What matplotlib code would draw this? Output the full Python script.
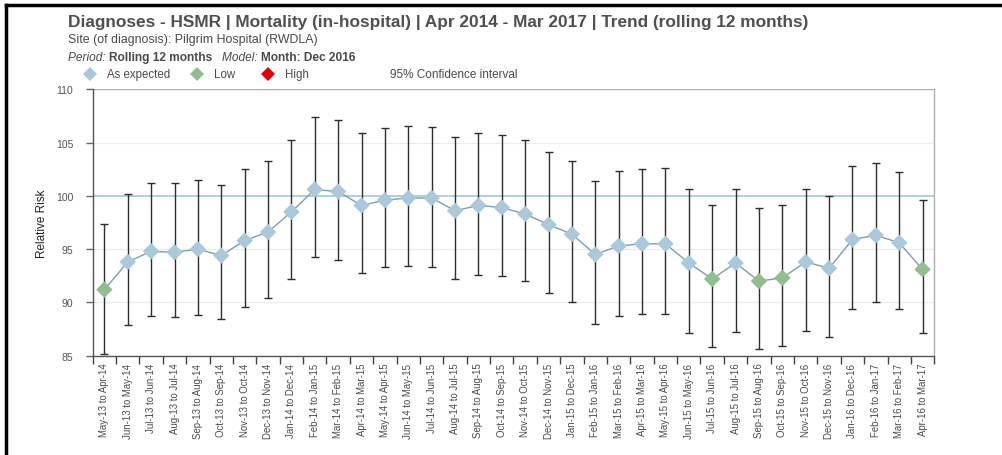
import matplotlib
matplotlib.use("Agg")
import matplotlib.pyplot as plt
from matplotlib.lines import Line2D

plt.rcParams['font.family'] = ['Liberation Sans', 'DejaVu Sans']

periods = [
    "May-13 to Apr-14", "Jun-13 to May-14", "Jul-13 to Jun-14", "Aug-13 to Jul-14",
    "Sep-13 to Aug-14", "Oct-13 to Sep-14", "Nov-13 to Oct-14", "Dec-13 to Nov-14",
    "Jan-14 to Dec-14", "Feb-14 to Jan-15", "Mar-14 to Feb-15", "Apr-14 to Mar-15",
    "May-14 to Apr-15", "Jun-14 to May-15", "Jul-14 to Jun-15", "Aug-14 to Jul-15",
    "Sep-14 to Aug-15", "Oct-14 to Sep-15", "Nov-14 to Oct-15", "Dec-14 to Nov-15",
    "Jan-15 to Dec-15", "Feb-15 to Jan-16", "Mar-15 to Feb-16", "Apr-15 to Mar-16",
    "May-15 to Apr-16", "Jun-15 to May-16", "Jul-15 to Jun-16", "Aug-15 to Jul-16",
    "Sep-15 to Aug-16", "Oct-15 to Sep-16", "Nov-15 to Oct-16", "Dec-15 to Nov-16",
    "Jan-16 to Dec-16", "Feb-16 to Jan-17", "Mar-16 to Feb-17", "Apr-16 to Mar-17",
]
relative_risk = [
    91.2, 93.8, 94.8, 94.7, 95.0, 94.4, 95.8, 96.6, 98.5, 100.6, 100.4, 99.1,
    99.6, 99.8, 99.8, 98.6, 99.1, 98.9, 98.3, 97.3, 96.4, 94.5, 95.3, 95.5,
    95.5, 93.7, 92.2, 93.7, 92.0, 92.3, 93.8, 93.2, 95.9, 96.3, 95.6, 93.1,
]
ci_upper = [
    97.4, 100.2, 101.2, 101.2, 101.5, 101.0, 102.5, 103.3, 105.2, 107.4, 107.1, 105.9,
    106.4, 106.6, 106.5, 105.5, 105.9, 105.7, 105.2, 104.1, 103.3, 101.4, 102.3, 102.5,
    102.6, 100.6, 99.1, 100.6, 98.9, 99.1, 100.6, 100.0, 102.8, 103.1, 102.2, 99.6,
]
ci_lower = [
    85.2, 87.9, 88.7, 88.6, 88.8, 88.4, 89.6, 90.4, 92.2, 94.3, 94.0, 92.8,
    93.3, 93.4, 93.3, 92.2, 92.6, 92.5, 92.0, 90.9, 90.0, 88.0, 88.7, 88.9,
    88.9, 87.1, 85.8, 87.2, 85.6, 85.9, 87.3, 86.8, 89.4, 90.0, 89.4, 87.1,
]
status = [
    "Low", "As expected", "As expected", "As expected", "As expected", "As expected",
    "As expected", "As expected", "As expected", "As expected", "As expected", "As expected",
    "As expected", "As expected", "As expected", "As expected", "As expected", "As expected",
    "As expected", "As expected", "As expected", "As expected", "As expected", "As expected",
    "As expected", "As expected", "Low", "As expected", "Low", "Low",
    "As expected", "As expected", "As expected", "As expected", "As expected", "Low",
]
yticks = [85, 90, 95, 100, 105, 110]

colours = {"As expected": "#a9c9dd", "Low": "#8fbf8c", "High": "#e00000"}
text_grey = "#4a4a4a"

fig = plt.figure(figsize=(10.02, 4.56), dpi=100)
ax = fig.add_axes([0.0925, 0.2178, 0.8399, 0.5842])

x = list(range(len(periods)))

# faint horizontal guides
for y in yticks[1:-1]:
    if y != 100:
        ax.axhline(y, color="#ececec", lw=0.9, zorder=0)
ax.axhline(100, color="#9ccbd3", lw=1.2, zorder=1)
ax.axhline(110, color="#a8b0b0", lw=1.0, zorder=1)

# confidence intervals
ax.errorbar(x, relative_risk,
            yerr=[[r - lo for r, lo in zip(relative_risk, ci_lower)],
                  [hi - r for r, hi in zip(relative_risk, ci_upper)]],
            fmt="none", ecolor="#2e2e2e", elinewidth=1.0, capsize=3, capthick=1.0, zorder=2)

# trend line and diamond markers
ax.plot(x, relative_risk, color="#7d9fae", lw=1.0, zorder=3)
for xi, yi, st in zip(x, relative_risk, status):
    ax.scatter(xi, yi, marker="D", s=70, color=colours[st], edgecolors="none", zorder=4)

ax.set_xlim(-0.5, len(periods) - 0.5)
ax.set_ylim(85, 110)
ax.set_yticks(yticks)
ax.set_yticklabels([str(t) for t in yticks], fontsize=7.5, color="#555555")
ax.set_xticks(x)
ax.set_xticklabels(periods, rotation=90, fontsize=6.9, color=text_grey)
ax.set_xticks([i - 0.5 for i in range(len(periods) + 1)], minor=True)
ax.tick_params(axis="x", which="major", length=0, pad=5)
ax.tick_params(axis="x", which="minor", length=6, width=1.0, color="#444444")
ax.tick_params(axis="y", length=5, width=1.0, color="#666666", pad=9)

ax.set_ylabel("Relative Risk", fontsize=8.5, color="#222222", labelpad=5.5)

ax.spines["top"].set_visible(False)
ax.spines["right"].set_color("#b0b0b0")
ax.spines["left"].set_color("#555555")
ax.spines["bottom"].set_color("#555555")
for sp in ax.spines.values():
    sp.set_linewidth(1.0)

# header text
fig.text(0.068, 0.950, "Diagnoses - HSMR | Mortality (in-hospital) | Apr 2014 - Mar 2017 | Trend (rolling 12 months)",
         fontsize=12.4, fontweight="bold", color="#505050", va="center")
fig.text(0.068, 0.912, "Site (of diagnosis): Pilgrim Hospital (RWDLA)",
         fontsize=8.9, color=text_grey, va="center")
t1 = fig.text(0.068, 0.873, "Period: ", fontsize=8.6, style="italic", color=text_grey, va="center")
fig.canvas.draw()
renderer = fig.canvas.get_renderer()


def place_after(prev, s, **kw):
    bb = prev.get_window_extent(renderer)
    xf = bb.x1 / fig.bbox.width
    return fig.text(xf, 0.873, s, va="center", color=text_grey, fontsize=8.6, **kw)


t2 = place_after(t1, "Rolling 12 months   ", fontweight="bold")
t3 = place_after(t2, "Model: ", style="italic")
t4 = place_after(t3, "Month: Dec 2016", fontweight="bold")

# legend row
legend_y = 0.836
for xp, label in [(0.090, "As expected"), (0.197, "Low"), (0.267, "High")]:
    fig.add_artist(Line2D([xp], [legend_y], marker="D", markersize=7.5, color=colours[label],
                          markeredgewidth=0, linestyle="none"))
    fig.text(xp + 0.017, legend_y, label, fontsize=8.3, color=text_grey, va="center")
fig.text(0.389, legend_y, "95% Confidence interval", fontsize=8.5, color=text_grey, va="center")

# frame edges
fig.add_artist(Line2D([0.006, 1.0], [0.987, 0.987], color="black", lw=2.5))
fig.add_artist(Line2D([0.006, 0.006], [0.0, 0.987], color="black", lw=2.5))

fig.savefig("out.png", dpi=100)
